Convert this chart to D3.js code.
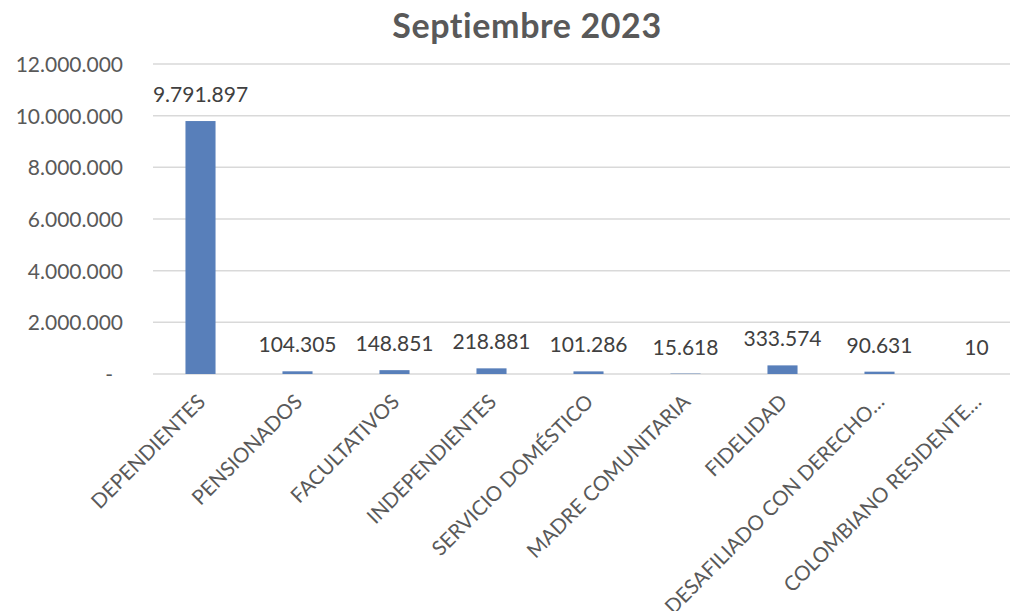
<!DOCTYPE html>
<html>
<head>
<meta charset="utf-8"/>
<title>Septiembre 2023</title>
<style>
body {margin: 0; background: #fff;}
text {font-family: Lato, "Open Sans", sans-serif; font-variant-ligatures: none;}
</style>
</head>
<body>
<div id="chart"></div>
<script src="https://d3js.org/d3.v7.min.js"></script>
<script>
// data
var categories = ["DEPENDIENTES", "PENSIONADOS", "FACULTATIVOS", "INDEPENDIENTES",
  "SERVICIO DOMÉSTICO", "MADRE COMUNITARIA", "FIDELIDAD",
  "DESAFILIADO CON DERECHO…", "COLOMBIANO RESIDENTE…"];
var values = [9791897, 104305, 148851, 218881, 101286, 15618, 333574, 90631, 10];
var yTicks = [0, 2000000, 4000000, 6000000, 8000000, 10000000, 12000000];

var width = 1010, height = 611;

var svg = d3.select("#chart").append("svg")
  .attr("width", width)
  .attr("height", height);

var es = d3.formatLocale({decimal: ",", thousands: ".", grouping: [3], currency: ["", ""]});
var fmt = es.format(",d");

// scales
var x = d3.scaleBand()
  .domain(categories)
  .range([152, 1025])
  .paddingInner(0.69)
  .paddingOuter(0.345);

var y = d3.scaleLinear()
  .domain([0, 12000000])
  .range([374, 64]);

// title
svg.append("text")
  .attr("x", 527)
  .attr("y", 38)
  .attr("text-anchor", "middle")
  .style("font-size", "34px")
  .style("font-weight", "bold")
  .style("letter-spacing", "0.6px")
  .style("fill", "#595959")
  .text("Septiembre 2023");

// gridlines
svg.append("g")
  .selectAll("line")
  .data(yTicks)
  .enter()
  .append("line")
  .attr("x1", 153)
  .attr("x2", width)
  .attr("y1", function(d) { return y(d); })
  .attr("y2", function(d) { return y(d); })
  .attr("stroke", "#d9d9d9")
  .attr("stroke-width", 1.5);

// y axis labels
var yAxis = d3.axisLeft(y)
  .tickValues(yTicks)
  .tickSize(0)
  .tickPadding(0)
  .tickFormat(function(d) { return d === 0 ? "-" : fmt(d); });

var gy = svg.append("g")
  .attr("transform", "translate(123,0)")
  .call(yAxis);
gy.select(".domain").remove();
gy.selectAll("text")
  .style("font-family", "Lato, sans-serif")
  .style("font-size", "21px")
  .style("fill", "#595959")
  .attr("dy", "0.35em")
  .attr("x", function(d) { return d === 0 ? -10 : 0; });

// bars
svg.append("g")
  .selectAll("rect")
  .data(values)
  .enter()
  .append("rect")
  .attr("x", function(d, i) { return x(categories[i]); })
  .attr("width", x.bandwidth())
  .attr("y", function(d) { return y(d); })
  .attr("height", function(d) { return y(0) - y(d); })
  .attr("fill", "#587fba");

// data labels
svg.append("g")
  .selectAll("text")
  .data(values)
  .enter()
  .append("text")
  .attr("x", function(d, i) { return x(categories[i]) + x.bandwidth() / 2; })
  .attr("y", function(d) { return y(d) - 19; })
  .attr("text-anchor", "middle")
  .style("font-size", "21px")
  .style("fill", "#404040")
  .text(function(d) { return fmt(d); });

// x axis category labels
var xAxis = d3.axisBottom(x).tickSize(0).tickPadding(0);
var gx = svg.append("g")
  .call(xAxis);
gx.select(".domain").remove();
gx.selectAll(".tick text")
  .attr("transform", "translate(1,398) rotate(-45)")
  .attr("y", 0)
  .attr("dy", "0.35em")
  .attr("text-anchor", "end")
  .style("font-family", "Lato, sans-serif")
  .style("font-size", "20.5px")
  .style("fill", "#595959");
</script>
</body>
</html>
